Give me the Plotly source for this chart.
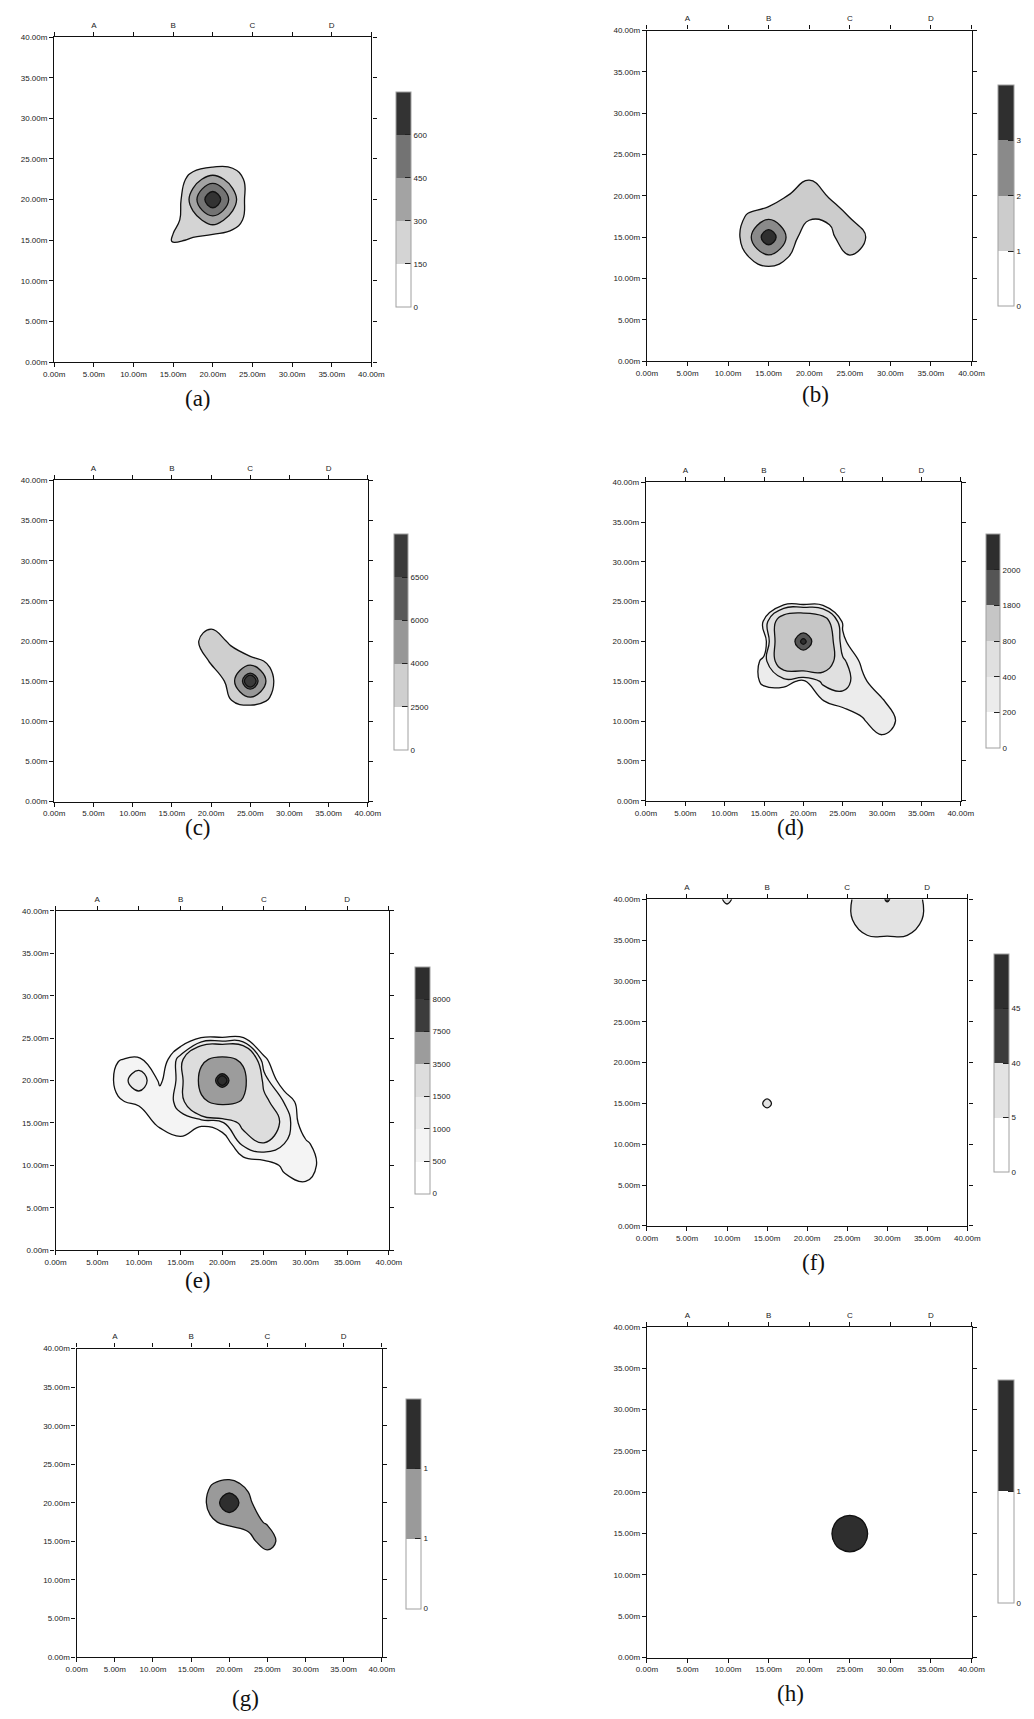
import plotly.graph_objects as go

W, H = 1034, 1719

# ---------------- axis ticks ----------------
AXIS_TICKS = [0, 5, 10, 15, 20, 25, 30, 35, 40]
AXIS_LABELS = ["%.2fm" % v for v in AXIS_TICKS]
TOP_TICKS = [5, 15, 25, 35]
TOP_LABELS = ["A", "B", "C", "D"]

# ---------------- panel (a) ----------------
a_x = [12.5, 15, 17.5, 20, 22.5, 25, 27.5]
a_y = [12.5, 15, 17.5, 20, 22.5, 25, 27.5]
a_z = [
    [0, 0, 0, 0, 0, 0, 0],
    [0, 172, 135, 60, 52, 0, 0],
    [0, 105, 240, 375, 240, 60, 0],
    [0, 0, 375, 750, 375, 0, 0],
    [0, 0, 240, 375, 240, 75, 0],
    [0, 0, 0, 0, 75, 0, 0],
    [0, 0, 0, 0, 0, 0, 0],
]
a_levels = [150, 300, 450, 600]
a_colors = ["#ffffff", "#d4d4d4", "#a3a3a3", "#737373", "#333333"]
a_labels = ["0", "150", "300", "450", "600"]

# ---------------- panel (b) ----------------
b_x = [10, 12.5, 15, 17.5, 20, 22.5, 25, 27.5, 30]
b_y = [10, 12.5, 15, 17.5, 20, 22.5, 25]
b_z = [
    [0, 0, 0, 0, 0, 0, 0, 0, 0],
    [0, 0.95, 1.71, 0.95, 0, 0.3, 0.88, 0.3, 0],
    [0, 1.71, 3.75, 1.71, 0.1, 0.7, 1.8, 0.78, 0],
    [0, 1.2, 1.71, 1.5, 1.2, 1.2, 0.98, 0.3, 0],
    [0, 0, 0.23, 1.05, 1.8, 0.95, 0.3, 0, 0],
    [0, 0, 0, 0.3, 0.75, 0.3, 0, 0, 0],
    [0, 0, 0, 0, 0, 0, 0, 0, 0],
]
b_levels = [1, 2, 3]
b_colors = ["#ffffff", "#cccccc", "#8a8a8a", "#2f2f2f"]
b_labels = ["0", "1", "2", "3"]

# ---------------- panel (c) ----------------
c_x = [15, 17.5, 20, 22.5, 25, 27.5, 30]
c_y = [10, 12.5, 15, 17.5, 20, 22.5, 25]
c_z = [
    [0, 0, 0, 200, 500, 200, 0],
    [0, 0, 900, 2450, 3000, 2375, 300],
    [0, 300, 1440, 3000, 8000, 3000, 500],
    [0, 1000, 2700, 3000, 3000, 2270, 300],
    [0, 2200, 3000, 2350, 900, 600, 0],
    [0, 700, 2150, 1000, 0, 0, 0],
    [0, 0, 0, 0, 0, 0, 0],
]
c_levels = [2500, 4000, 6000, 6500]
c_colors = ["#ffffff", "#cfcfcf", "#979797", "#5a5a5a", "#3a3a3a"]
c_labels = ["0", "2500", "4000", "6000", "6500"]

# ---------------- panel (d) ----------------
d_x = [12.5, 15, 17.5, 20, 22.5, 25, 27.5, 30, 32.5, 35]
d_y = [5, 7.5, 10, 12.5, 15, 17.5, 20, 22.5, 25]
d_z = [
    [0, 0, 0, 0, 0, 0, 0, 0, 0, 0],
    [0, 0, 0, 0, 0, 0, 0, 130, 0, 0],
    [0, 0, 0, 0, 0, 0, 170, 350, 130, 0],
    [0, 0, 0, 50, 190, 292, 320, 230, 0, 0],
    [0, 260, 280, 150, 450, 500, 250, 42, 0, 0],
    [0, 260, 1200, 1400, 1200, 450, 150, 0, 0, 0],
    [0, 36, 1400, 2100, 1400, 246, 0, 0, 0, 0],
    [0, 210, 1200, 1400, 1100, 163, 0, 0, 0, 0],
    [0, 0, 0, 0, 0, 0, 0, 0, 0, 0],
]
d_levels = [200, 400, 800, 1800, 2000]
d_colors = ["#ffffff", "#ececec", "#e0e0e0", "#c6c6c6", "#555555", "#2e2e2e"]
d_labels = ["0", "200", "400", "800", "1800", "2000"]

# ---------------- panel (e) ----------------
e_x = [5, 7.5, 10, 12.5, 15, 17.5, 20, 22.5, 25, 27.5, 30, 32.5, 35]
e_y = [5, 7.5, 10, 12.5, 15, 17.5, 20, 22.5, 25, 27.5]
e_z = [
    [0, 0, 0, 0, 0, 0, 0, 0, 0, 0, 0, 0, 0],
    [0, 0, 0, 0, 0, 0, 0, 0, 0, 300, 437, 100, 0],
    [0, 0, 0, 0, 0, 0, 0, 100, 200, 620, 700, 315, 0],
    [0, 0, 0, 0, 270, 0, 0, 1100, 1480, 980, 650, 0, 0],
    [0, 0, 100, 650, 900, 600, 900, 1700, 1800, 1400, 0, 0, 0],
    [0, 450, 600, 800, 1100, 3300, 3900, 3400, 1700, 950, 0, 0, 0],
    [0, 640, 1390, 400, 1173, 3900, 9200, 3900, 1300, 0, 0, 0, 0],
    [0, 480, 570, 0, 1255, 3300, 3900, 3300, 600, 0, 0, 0, 0],
    [0, 0, 0, 0, 0, 520, 520, 520, 0, 0, 0, 0, 0],
    [0, 0, 0, 0, 0, 0, 0, 0, 0, 0, 0, 0, 0],
]
e_levels = [500, 1000, 1500, 3500, 7500, 8000]
e_colors = ["#ffffff", "#f4f4f4", "#ebebeb", "#dddddd", "#9c9c9c", "#3c3c3c", "#2e2e2e"]
e_labels = ["0", "500", "1000", "1500", "3500", "7500", "8000"]

# ---------------- panel (f) ----------------
f_x = [7.5, 10, 12.5, 15, 17.5, 22.5, 25, 27.5, 30, 32.5, 35, 37.5]
f_y = [12.5, 15, 17.5, 32.5, 35, 37.5, 40]
f_z = [
    [0, 0, 0, 0, 0, 0, 0, 0, 0, 0, 0, 0],
    [0, 0, 0, 6.4, 0, 0, 0, 0, 0, 0, 0, 0],
    [0, 0, 0, 0, 0, 0, 0, 0, 0, 0, 0, 0],
    [0, 0, 0, 0, 0, 0, 0, 0, 0, 0, 0, 0],
    [0, 0, 0, 0, 0, 0, 0, 0.9, 1.25, 1.0, 0, 0],
    [0, 0, 0, 0, 0, 0, 0.3, 18, 20, 18, 0.3, 0],
    [0, 6.5, 0, 0, 0, 0, 0.3, 20, 43, 20, 0.3, 0],
]
f_levels = [5, 40, 45]
f_colors = ["#ffffff", "#e3e3e3", "#3c3c3c", "#2e2e2e"]
f_labels = ["0", "5", "40", "45"]

# ---------------- panel (g) ----------------
g_x = [15, 17.5, 20, 22.5, 25, 27.5, 30]
g_y = [10, 12.5, 15, 17.5, 20, 22.5, 25]
g_z = [
    [0, 0, 0, 0, 0, 0, 0],
    [0, 0, 0, 0, 0.81, 0, 0],
    [0, 0, 0, 0.9, 1.15, 0.81, 0],
    [0, 0.85, 1.25, 1.1, 0.97, 0, 0],
    [0, 1.25, 1.555, 1.25, 0, 0, 0],
    [0, 0.95, 1.25, 0.8, 0, 0, 0],
    [0, 0, 0, 0, 0, 0, 0],
]
g_levels = [1.0, 1.4]
g_colors = ["#ffffff", "#9a9a9a", "#2e2e2e"]
g_labels = ["0", "1", "1"]

# ---------------- panel (h) ----------------
h_x = [21.25, 22.5, 23.75, 25, 26.25, 27.5, 28.75]
h_y = [11.25, 12.5, 13.75, 15, 16.25, 17.5, 18.75]
h_z = [
    [0, 0, 0, 0, 0, 0, 0],
    [0, 0.3, 0.7, 0.8, 0.7, 0.3, 0],
    [0, 0.7, 1.245, 1.633, 1.245, 0.7, 0],
    [0, 0.8, 1.633, 1.9, 1.633, 0.8, 0],
    [0, 0.7, 1.245, 1.633, 1.245, 0.7, 0],
    [0, 0.3, 0.7, 0.8, 0.7, 0.3, 0],
    [0, 0, 0, 0, 0, 0, 0],
]
h_levels = [1]
h_colors = ["#ffffff", "#2e2e2e"]
h_labels = ["0", "1"]

# ---------------- layout geometry (pixels) ----------------
PANELS = [
    dict(tag="(a)", x=a_x, y=a_y, z=a_z, lv=a_levels, col=a_colors, lab=a_labels,
         box=(44.3, 33.3, 369.3, 360.0), cb=(395, 410, 88.3, 303), txt=(192, 397)),
    dict(tag="(b)", x=b_x, y=b_y, z=b_z, lv=b_levels, col=b_colors, lab=b_labels,
         box=(651.7, 26.7, 984.3, 359.0), cb=(1011, 1026.7, 81.7, 303), txt=(824, 393)),
    dict(tag="(c)", x=c_x, y=c_y, z=c_z, lv=c_levels, col=c_colors, lab=c_labels,
         box=(44.3, 479.0, 365.7, 801.7), cb=(392, 406, 532.7, 748.3), txt=(192, 828)),
    dict(tag="(d)", x=d_x, y=d_y, z=d_z, lv=d_levels, col=d_colors, lab=d_labels,
         box=(650.7, 480.7, 973.3, 801.0), cb=(999, 1013, 533, 746.7), txt=(799, 828)),
    dict(tag="(e)", x=e_x, y=e_y, z=e_z, lv=e_levels, col=e_colors, lab=e_labels,
         box=(45.7, 911.7, 387.3, 1252.7), cb=(414, 429, 967.7, 1195), txt=(192, 1283)),
    dict(tag="(f)", x=f_x, y=f_y, z=f_z, lv=f_levels, col=f_colors, lab=f_labels,
         box=(651.7, 900.0, 980.0, 1228.3), cb=(1007, 1022, 955, 1173), txt=(822, 1265)),
    dict(tag="(g)", x=g_x, y=g_y, z=g_z, lv=g_levels, col=g_colors, lab=g_labels,
         box=(67.3, 1351.7, 380.0, 1661.7), cb=(404.3, 419.3, 1402, 1611.7), txt=(240.7, 1703)),
    dict(tag="(h)", x=h_x, y=h_y, z=h_z, lv=h_levels, col=h_colors, lab=h_labels,
         box=(651.7, 1330.0, 984.3, 1662.3), cb=(1011, 1026.7, 1383, 1606), txt=(799, 1698)),
]

TICK_FONT = dict(family="Liberation Sans, Arial, sans-serif", size=8, color="#222222")

fig = go.Figure()
layout = dict(
    width=W, height=H, autosize=False,
    margin=dict(l=0, r=0, t=0, b=0, pad=0),
    paper_bgcolor="white", plot_bgcolor="white",
    showlegend=False, annotations=[],
)

n_panels = len(PANELS)
for i, p in enumerate(PANELS):
    k = i + 1
    xa = "x" if k == 1 else "x%d" % k
    ya = "y" if k == 1 else "y%d" % k
    L, T, R, B = p["box"]

    # stacked single-level contour fills, lowest level first
    for j, lev in enumerate(p["lv"]):
        fig.add_trace(go.Contour(
            x=p["x"], y=p["y"], z=p["z"], xaxis=xa, yaxis=ya,
            autocontour=False,
            contours=dict(start=lev, end=lev, size=1, coloring="fill", showlines=True),
            colorscale=[[0, "rgba(255,255,255,0)"], [1, p["col"][j + 1]]],
            line=dict(color="#111111", width=1.3, smoothing=1.3),
            showscale=False, hoverinfo="skip",
        ))

    # colour key
    nb = len(p["col"])
    cscale = []
    for m, c in enumerate(p["col"]):
        cscale.append([m / nb, c])
        cscale.append([(m + 1) / nb, c])
    x0, x1, t0, b0 = p["cb"]
    fig.add_trace(go.Scatter(
        x=[-100], y=[-100], mode="markers", xaxis=xa, yaxis=ya,
        hoverinfo="skip",
        marker=dict(
            color=[0], cmin=0, cmax=nb, colorscale=cscale, showscale=True, size=1,
            colorbar=dict(
                x=x0 / W, xanchor="left", y=1 - t0 / H, yanchor="top",
                len=b0 - t0, lenmode="pixels",
                thickness=x1 - x0, thicknessmode="pixels",
                xpad=0, ypad=0, outlinewidth=1, outlinecolor="#a0a0a0",
                tickvals=list(range(nb)), ticktext=p["lab"],
                ticks="inside", ticklen=6, tickwidth=1.2, tickcolor="#222222",
                tickfont=TICK_FONT,
            ),
        ),
    ))

    common = dict(range=[0, 40], tickvals=AXIS_TICKS, ticktext=AXIS_LABELS,
                  ticks="outside", ticklen=4, tickwidth=1.2, tickcolor="#111111",
                  showline=True, linecolor="#111111", linewidth=1.4, mirror="ticks",
                  showgrid=False, zeroline=False, tickfont=TICK_FONT, fixedrange=True)
    layout["xaxis" if k == 1 else "xaxis%d" % k] = dict(
        domain=[L / W, R / W], anchor=ya, **common)
    layout["yaxis" if k == 1 else "yaxis%d" % k] = dict(
        domain=[1 - B / H, 1 - T / H], anchor=xa, **common)

    # top letter axis
    kt = n_panels + k
    layout["xaxis%d" % kt] = dict(
        overlaying=xa, side="top", anchor=ya, range=[0, 40],
        tickvals=TOP_TICKS, ticktext=TOP_LABELS,
        ticks="outside", ticklen=5, tickcolor="rgba(0,0,0,0)",
        showline=False, showgrid=False, zeroline=False,
        tickfont=TICK_FONT, fixedrange=True,
    )
    fig.add_trace(go.Scatter(x=[-100], y=[-100], mode="markers", xaxis="x%d" % kt,
                             yaxis=ya, hoverinfo="skip", marker=dict(size=1, opacity=0)))

    layout["annotations"].append(dict(
        text=p["tag"], xref="paper", yref="paper",
        x=p["txt"][0] / W, y=1 - p["txt"][1] / H,
        xanchor="center", yanchor="middle", showarrow=False,
        font=dict(family="Liberation Serif, Times New Roman, serif", size=23, color="#111111"),
    ))

fig.update_layout(**layout)
fig.write_html("out.html", config={"displayModeBar": False},
               post_script="document.body.style.margin='0';")
